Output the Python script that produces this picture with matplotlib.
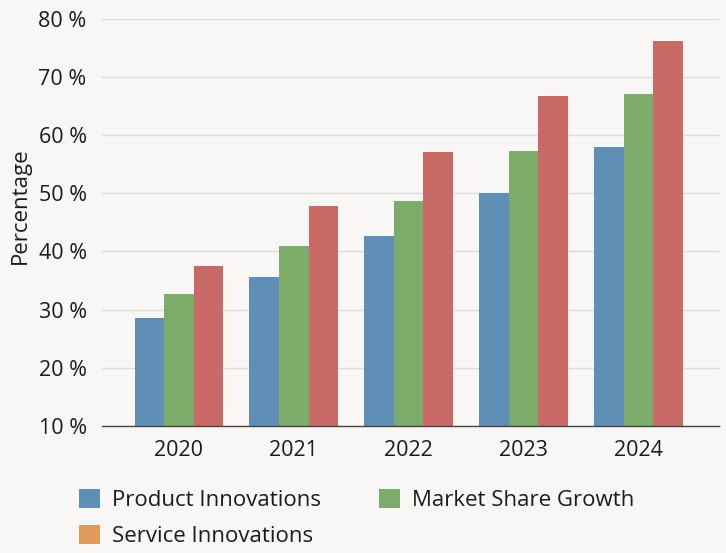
import matplotlib

matplotlib.use("Agg")

import matplotlib.pyplot as plt
import numpy as np
from matplotlib.patches import Patch


YEARS = ["2020", "2021", "2022", "2023", "2024"]

PRODUCT_INNOVATIONS = [28.5, 35.6, 42.6, 50.1, 57.9]
MARKET_SHARE_GROWTH = [32.6, 40.9, 48.6, 57.3, 67.0]
SERVICE_INNOVATIONS = [37.5, 47.8, 57.1, 66.7, 76.2]

Y_TICKS = [10, 20, 30, 40, 50, 60, 70, 80]

BLUE = "#5f8fb6"
GREEN = "#7dab69"
RED = "#c96a66"
ORANGE = "#e29a5b"
BACKGROUND = "#f8f7f5"
TEXT = "#1c1c1c"

plt.rcParams["font.family"] = ["Open Sans", "DejaVu Sans"]


def main() -> None:
    fig = plt.figure(figsize=(7.26, 5.53), dpi=100, facecolor=BACKGROUND)
    ax = fig.add_axes([0.1405, 0.2297, 0.8495, 0.7368])
    ax.set_facecolor(BACKGROUND)

    x_positions = np.arange(len(YEARS))
    width = 0.258

    ax.bar(x_positions - width, PRODUCT_INNOVATIONS, width=width,
           color=BLUE, zorder=3)
    ax.bar(x_positions, MARKET_SHARE_GROWTH, width=width,
           color=GREEN, zorder=3)
    ax.bar(x_positions + width, SERVICE_INNOVATIONS, width=width,
           color=RED, zorder=3)

    ax.set_xlim(-0.67, 4.70)
    ax.set_ylim(10, 80)
    ax.set_xticks(x_positions)
    ax.set_xticklabels(YEARS, fontsize=15.5, color=TEXT)
    ax.set_yticks(Y_TICKS)
    ax.set_yticklabels([f"{v} %" for v in Y_TICKS], fontsize=15.5, color=TEXT)
    ax.tick_params(axis="both", length=0)
    ax.tick_params(axis="x", pad=10)
    ax.tick_params(axis="y", pad=11)

    ax.yaxis.grid(True, color="#dcdcdc", linewidth=1.0, zorder=0)
    ax.set_axisbelow(True)

    for side in ["top", "right", "left"]:
        ax.spines[side].set_visible(False)
    ax.spines["bottom"].set_color("#444444")
    ax.spines["bottom"].set_linewidth(1.0)
    ax.spines["bottom"].set_zorder(4)

    ax.set_ylabel("Percentage", fontsize=16, color=TEXT)
    ax.yaxis.set_label_coords(-0.115, 0.54)

    # legend fills column by column, so Service goes second to land on row 2
    handles = [
        Patch(facecolor=BLUE, label="Product Innovations"),
        Patch(facecolor=ORANGE, label="Service Innovations"),
        Patch(facecolor=GREEN, label="Market Share Growth"),
    ]
    fig.legend(
        handles=handles,
        loc="upper left",
        bbox_to_anchor=(0.081, 0.152),
        ncol=2,
        frameon=False,
        fontsize=16,
        handlelength=0.95,
        handleheight=0.95,
        handletextpad=0.55,
        columnspacing=2.6,
        labelspacing=0.62,
        labelcolor=TEXT,
    )

    fig.savefig("out.png", dpi=100, facecolor=BACKGROUND)
    plt.close(fig)


if __name__ == "__main__":
    main()
